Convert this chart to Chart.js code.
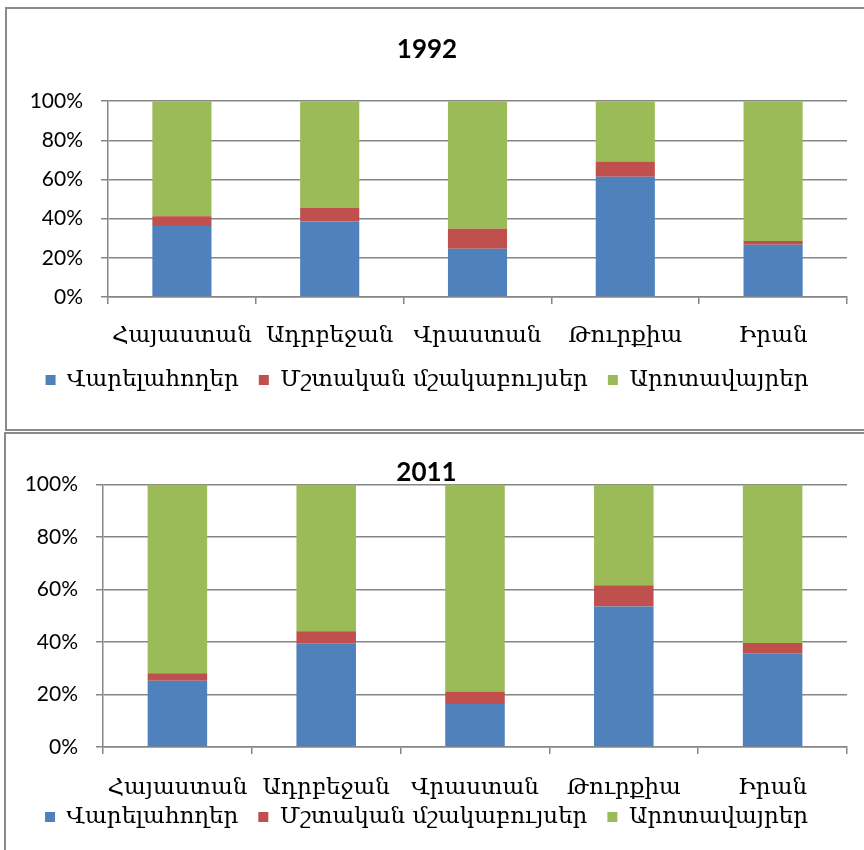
<!DOCTYPE html>
<html>
<head>
<meta charset="utf-8">
<script src="https://cdn.jsdelivr.net/npm/chart.js@4"></script>
<style>
  body { margin: 0; background: #fff; width: 864px; height: 850px; overflow: hidden; position: relative; }
  .box { position: absolute; border: 2px solid #8a8a8a; background: #fff; }
  #box92 { left: 5px; top: 7px; width: 900px; height: 420px; }
  #box11 { left: 4px; top: 432px; width: 900px; height: 430px; }
  canvas { position: absolute; left: 0; top: 0; }
</style>
</head>
<body>
<div class="box" id="box92"><canvas id="chart92"></canvas></div>
<div class="box" id="box11"><canvas id="chart11"></canvas></div>
<script>
// categories and series (percent of agricultural land)
const countries = ['Հայաստան', 'Ադրբեջան', 'Վրաստան', 'Թուրքիա', 'Իրան'];
const seriesNames = ['Վարելահողեր', 'Մշտական մշակաբույսեր', 'Արոտավայրեր'];
const colors = ['#4F81BD', '#C0504D', '#9BBB59'];

const arable1992 = [36.2, 38.6, 24.6, 61.4, 26.7];
const perm1992 = [5.1, 7.0, 10.2, 7.8, 1.9];
const pasture1992 = [58.7, 54.4, 65.2, 30.8, 71.4];

const arable2011 = [25.2, 39.3, 16.4, 53.5, 35.7];
const perm2011 = [2.9, 4.8, 4.7, 8.1, 3.9];
const pasture2011 = [71.9, 55.9, 78.9, 38.4, 60.4];

const yTicks = [0, 20, 40, 60, 80, 100];

const armFont = "'DejaVu Serif', 'DejaVu Sans', serif";
const numFont = "Lato, 'Open Sans', sans-serif";
const gridColor = '#868686';

function makeChart(id, w, h, title, values, opt) {
  const canvas = document.getElementById(id);
  canvas.width = w;
  canvas.height = h;
  canvas.style.width = w + 'px';
  canvas.style.height = h + 'px';

  const datasets = values.map((v, i) => ({
    label: seriesNames[i],
    data: v,
    backgroundColor: colors[i],
    borderWidth: 0,
    barPercentage: 0.4,
    categoryPercentage: 1.0
  }));

  // pulls the legend a bit closer to the axis labels (the 2011 chart is tighter)
  const legendShift = {
    id: 'legendShift',
    afterLayout(chart) {
      chart.legend.top -= opt.legendShift;
      chart.legend.bottom -= opt.legendShift;
    }
  };

  return new Chart(canvas.getContext('2d'), {
    type: 'bar',
    data: { labels: countries, datasets: datasets },
    plugins: [legendShift],
    options: {
      responsive: false,
      animation: false,
      layout: { padding: { left: 0, right: opt.padRight, top: 0, bottom: opt.padBottom } },
      plugins: {
        title: {
          display: true,
          text: title,
          color: '#000',
          font: { family: numFont, size: 26, weight: 'bold', lineHeight: opt.titleLH },
          padding: { top: opt.titleTop, bottom: opt.titleBottom }
        },
        legend: {
          position: 'bottom',
          labels: {
            boxWidth: 10,
            boxHeight: 10,
            padding: 20,
            color: '#000',
            font: { family: armFont, size: 23 }
          }
        },
        tooltip: { enabled: false }
      },
      scales: {
        x: {
          stacked: true,
          grid: { offset: true, drawOnChartArea: false, drawTicks: true, tickLength: 7, color: gridColor, lineWidth: 1.5 },
          border: { display: true, color: gridColor, width: 1.5 },
          ticks: { color: '#000', padding: opt.xPad, maxRotation: 0, autoSkip: false, font: { family: armFont, size: 23 } },
          afterFit: function(scale) { scale.height = opt.xHeight; }
        },
        y: {
          stacked: true,
          min: 0,
          max: 100,
          afterBuildTicks: function(scale) { scale.ticks = yTicks.map(v => ({ value: v })); },
          grid: { drawTicks: true, tickLength: 7, color: gridColor, lineWidth: 1.5 },
          border: { display: true, color: gridColor, width: 1.5 },
          ticks: { color: '#000', padding: 18, font: { family: numFont, size: 21 }, callback: v => v + '%' },
          afterFit: function(scale) { scale.width = opt.yWidth; }
        }
      }
    }
  });
}

makeChart('chart92', 857, 420, '1992', [arable1992, perm1992, pasture1992], {
  padRight: 17, padBottom: 27.5, titleLH: 1.2, titleTop: 25, titleBottom: 36,
  xPad: 18, xHeight: 51.5, yWidth: 101, legendShift: 0
});

makeChart('chart11', 858, 424, '2011', [arable2011, perm2011, pasture2011], {
  padRight: 17, padBottom: 2, titleLH: 0.9, titleTop: 27, titleBottom: 0,
  xPad: 20, xHeight: 56, yWidth: 97, legendShift: 17.5
});
</script>
</body>
</html>
